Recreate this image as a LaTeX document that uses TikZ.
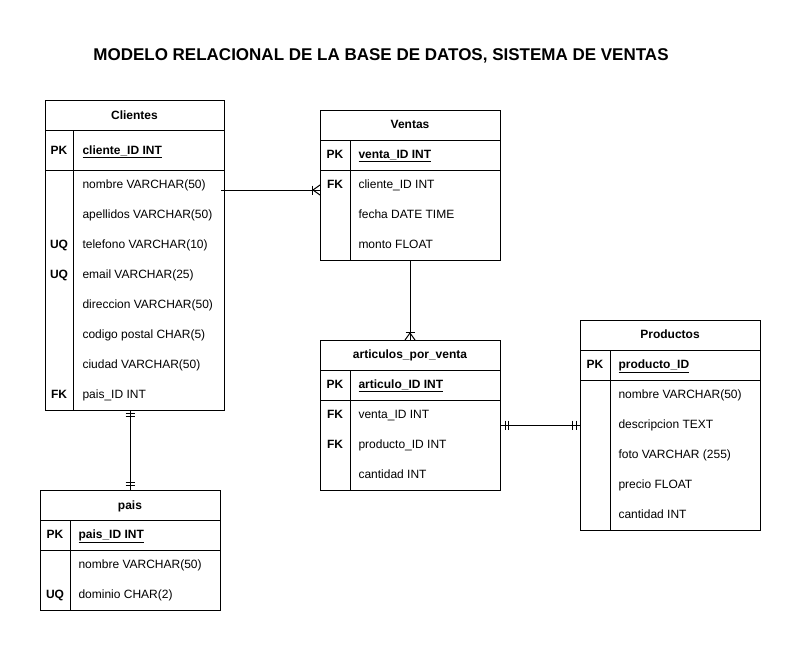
\documentclass[tikz,border=0pt]{standalone}
\usepackage{fontspec}
\setmainfont{Liberation Sans}
\begin{document}
\begin{tikzpicture}[x=1pt,y=-1pt,line width=1pt,
  tbl/.style={draw, line width=1pt, anchor=north west, inner sep=0pt, outer sep=0pt},
  ttl/.style={font=\bfseries\fontsize{12}{14}\selectfont, anchor=base, inner sep=0pt, yshift=-4.5pt},
  keyt/.style={font=\bfseries\fontsize{12}{14}\selectfont, anchor=base, inner sep=0pt, yshift=-4.5pt},
  rowt/.style={font=\fontsize{12}{14}\selectfont, anchor=base west, inner sep=0pt, yshift=-4.5pt},
  pkt/.style={font=\bfseries\fontsize{12}{14}\selectfont, anchor=base west, inner sep=0pt, yshift=-4.5pt},
  conn/.style={line width=1pt, draw=black}]
\fill[white] (0,0) rectangle (801,651);
\useasboundingbox (0,0) rectangle (801,651);

\node[font=\bfseries\fontsize{17}{20}\selectfont, anchor=base, inner sep=0pt] (title) at (381,60) {MODELO RELACIONAL DE LA BASE DE DATOS, SISTEMA DE VENTAS};

% ---------------- Clientes
\node[tbl, minimum width=179pt, minimum height=310pt] (cli) at (45,100) {};
\node[ttl] (cliT) at (134.5,115) {Clientes};
\draw (45,130) -- (224,130);
\draw (45,170) -- (224,170);
\draw (73,130) -- (73,410);
\node[keyt] (cliPKk) at (59,150) {PK};
\node[pkt] (cliPK) at (82,150) {\underline{cliente\_ID INT}};
\node[rowt] (cli1) at (82,184) {nombre VARCHAR(50)};
\node[rowt] (cli2) at (82,214) {apellidos VARCHAR(50)};
\node[keyt] (cli3k) at (59,244) {UQ};
\node[rowt] (cli3) at (82,244) {telefono VARCHAR(10)};
\node[keyt] (cli4k) at (59,274) {UQ};
\node[rowt] (cli4) at (82,274) {email VARCHAR(25)};
\node[rowt] (cli5) at (82,304) {direccion VARCHAR(50)};
\node[rowt] (cli6) at (82,334) {codigo postal CHAR(5)};
\node[rowt] (cli7) at (82,364) {ciudad VARCHAR(50)};
\node[keyt] (cli8k) at (59,394) {FK};
\node[rowt] (cli8) at (82,394) {pais\_ID INT};

% ---------------- Ventas
\node[tbl, minimum width=180pt, minimum height=150pt] (ven) at (320,110) {};
\node[ttl] (venT) at (410,124) {Ventas};
\draw (320,140) -- (500,140);
\draw (320,170) -- (500,170);
\draw (350,140) -- (350,260);
\node[keyt] (venPKk) at (335,154) {PK};
\node[pkt] (venPK) at (358,154) {\underline{venta\_ID INT}};
\node[keyt] (ven1k) at (335,184) {FK};
\node[rowt] (ven1) at (358,184) {cliente\_ID INT};
\node[rowt] (ven2) at (358,214) {fecha DATE TIME};
\node[rowt] (ven3) at (358,244) {monto FLOAT};

% ---------------- articulos_por_venta
\node[tbl, minimum width=180pt, minimum height=150pt] (art) at (320,340) {};
\node[ttl] (artT) at (410,354) {articulos\_por\_venta};
\draw (320,370) -- (500,370);
\draw (320,400) -- (500,400);
\draw (350,370) -- (350,490);
\node[keyt] (artPKk) at (335,384) {PK};
\node[pkt] (artPK) at (358,384) {\underline{articulo\_ID INT}};
\node[keyt] (art1k) at (335,414) {FK};
\node[rowt] (art1) at (358,414) {venta\_ID INT};
\node[keyt] (art2k) at (335,444) {FK};
\node[rowt] (art2) at (358,444) {producto\_ID INT};
\node[rowt] (art3) at (358,474) {cantidad INT};

% ---------------- Productos
\node[tbl, minimum width=180pt, minimum height=210pt] (pro) at (580,320) {};
\node[ttl] (proT) at (670,334) {Productos};
\draw (580,350) -- (760,350);
\draw (580,380) -- (760,380);
\draw (610,350) -- (610,530);
\node[keyt] (proPKk) at (595,364) {PK};
\node[pkt] (proPK) at (618,364) {\underline{producto\_ID}};
\node[rowt] (pro1) at (618,394) {nombre VARCHAR(50)};
\node[rowt] (pro2) at (618,424) {descripcion TEXT};
\node[rowt] (pro3) at (618,454) {foto VARCHAR (255)};
\node[rowt] (pro4) at (618,484) {precio FLOAT};
\node[rowt] (pro5) at (618,514) {cantidad INT};

% ---------------- pais
\node[tbl, minimum width=180pt, minimum height=120pt] (pais) at (40,490) {};
\node[ttl] (paisT) at (130,505) {pais};
\draw (40,520) -- (220,520);
\draw (40,550) -- (220,550);
\draw (70,520) -- (70,610);
\node[keyt] (paisPKk) at (55,534) {PK};
\node[pkt] (paisPK) at (78,534) {\underline{pais\_ID INT}};
\node[rowt] (pais1) at (78,564) {nombre VARCHAR(50)};
\node[keyt] (pais2k) at (55,594) {UQ};
\node[rowt] (pais2) at (78,594) {dominio CHAR(2)};

% ---------------- connectors
% Clientes -> Ventas (one or many)
\coordinate (c1) at (221,190);
\coordinate (c1e) at (ven.west |- c1);
\draw[conn] (c1) -- (c1e);
\begin{scope}[shift={(c1e)}]
  \draw[conn] (0,-5) -- (-7,0) -- (0,5);
  \draw[conn] (-8,-4.5) -- (-8,4.5);
\end{scope}

% Ventas -> articulos (one or many)
\coordinate (c2s) at (ven.south);
\coordinate (c2e) at (art.north);
\draw[conn] (c2s) -- (c2e);
\begin{scope}[shift={(c2e)}]
  \draw[conn] (-5,0) -- (0,-7) -- (5,0);
  \draw[conn] (-4.5,-8) -- (4.5,-8);
\end{scope}

% Clientes -- pais (mandatory one both ends)
\coordinate (c3s) at (cli.south -| pais.north);
\coordinate (c3e) at (pais.north);
\draw[conn] (c3s) -- (c3e);
\begin{scope}[shift={(c3s)}]
  \draw[conn] (-4.5,3) -- (4.5,3);
  \draw[conn] (-4.5,6) -- (4.5,6);
\end{scope}
\begin{scope}[shift={(c3e)}]
  \draw[conn] (-4.5,-8) -- (4.5,-8);
  \draw[conn] (-4.5,-5) -- (4.5,-5);
\end{scope}

% articulos -- Productos (mandatory one both ends)
\coordinate (c4s) at (500,425);
\coordinate (c4e) at (pro.west |- c4s);
\draw[conn] (c4s) -- (c4e);
\begin{scope}[shift={(c4s)}]
  \draw[conn] (5,-4.5) -- (5,4.5);
  \draw[conn] (8.5,-4.5) -- (8.5,4.5);
\end{scope}
\begin{scope}[shift={(c4e)}]
  \draw[conn] (-7.5,-4.5) -- (-7.5,4.5);
  \draw[conn] (-3.5,-4.5) -- (-3.5,4.5);
\end{scope}
\end{tikzpicture}
\end{document}
